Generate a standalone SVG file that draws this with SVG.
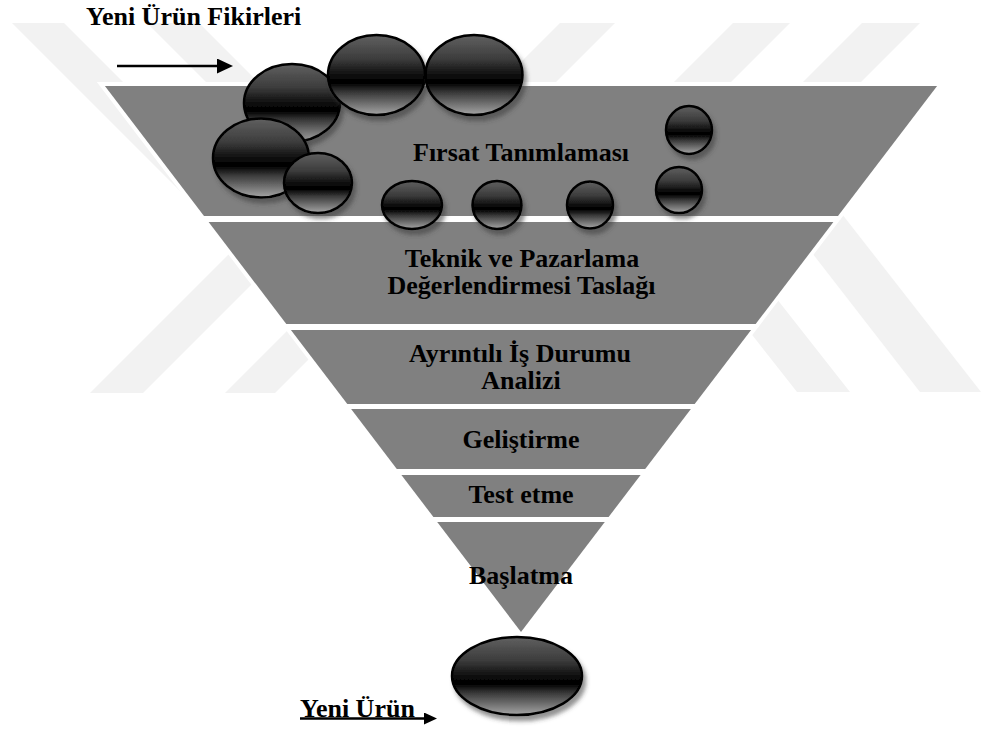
<svg xmlns="http://www.w3.org/2000/svg" width="981" height="731" viewBox="0 0 981 731">
<style>
.wm{fill:#f2f2f2}
.band{fill:#808080;stroke:#ffffff;stroke-width:8;paint-order:stroke;stroke-linejoin:miter}
.lbl{font-family:'Liberation Serif','Times New Roman',Tinos,'DejaVu Serif',serif;font-weight:bold;font-size:26px;fill:#000;text-anchor:middle}
.cap{font-family:'Liberation Serif','Times New Roman',Tinos,'DejaVu Serif',serif;font-weight:bold;font-size:26px;fill:#000}
.idea{fill:url(#ballGrad);stroke:#000;stroke-width:2.5;filter:url(#shadow)}
.conn{stroke:#000;stroke-width:2.5;fill:none}
</style>
<defs>
<linearGradient id="ballGrad" x1="0" y1="0" x2="0" y2="1">
<stop offset="0" stop-color="#606060"/>
<stop offset="0.3" stop-color="#3c3c3c"/>
<stop offset="0.52" stop-color="#0a0a0a"/>
<stop offset="0.6" stop-color="#000"/>
<stop offset="0.72" stop-color="#3a3a3a"/>
<stop offset="1" stop-color="#a6a6a6"/>
</linearGradient>
<filter id="shadow" x="-20%" y="-20%" width="150%" height="160%">
<feDropShadow dx="3" dy="5" stdDeviation="2" flood-color="#3a3a3a" flood-opacity="0.55"/>
</filter>
<marker id="headBig" markerUnits="userSpaceOnUse" markerWidth="16" markerHeight="15" viewBox="0 0 16 15" refX="5" refY="7.5" orient="auto">
<path d="M0,0 L16,7.5 L0,15 Z" fill="#000"/>
</marker>
<marker id="headSmall" markerUnits="userSpaceOnUse" markerWidth="13" markerHeight="12" viewBox="0 0 13 12" refX="3" refY="6" orient="auto">
<path d="M0,0 L13,6 L0,12 Z" fill="#000"/>
</marker>
</defs>
<rect width="981" height="731" fill="#fff"/>
<g id="watermark">
<polygon class="wm" points="12,23 64,23 301,260 249,260"/>
<polygon class="wm" points="147,23 199,23 436,260 384,260"/>
<polygon class="wm" points="560,23 615,23 452,186 397,186"/>
<polygon class="wm" points="733,23 790,23 627,186 570,186"/>
<polygon class="wm" points="862,23 920,23 757,186 699,186"/>
<polygon class="wm" points="771,200 831,200 981,392 920,392"/>
<polygon class="wm" points="709,280 762,280 850,392 797,392"/>
<polygon class="wm" points="90,393 143,393 286,250 233,250"/>
<polygon class="wm" points="225,393 275,393 348,320 298,320"/>
</g>
<g id="band-firsat">
<polygon class="band" points="104.9,86 937.1,86 838,216 204,216"/>
<text class="lbl" x="521" y="161">Fırsat Tanımlaması</text>
</g>
<g id="band-teknik">
<polygon class="band" points="208.6,222 833.4,222 755.7,324 286.3,324"/>
<text class="lbl" x="522" y="267">Teknik ve Pazarlama</text>
<text class="lbl" x="521.5" y="294">Değerlendirmesi Taslağı</text>
</g>
<g id="band-ayrintili">
<polygon class="band" points="290.9,330 751.1,330 694.7,404 347.3,404"/>
<text class="lbl" x="520" y="362">Ayrıntılı İş Durumu</text>
<text class="lbl" x="521" y="389">Analizi</text>
</g>
<g id="band-gelistirme">
<polygon class="band" points="351.1,409 690.9,409 645.2,469 396.8,469"/>
<text class="lbl" x="521" y="448">Geliştirme</text>
</g>
<g id="band-test">
<polygon class="band" points="401.4,475 640.6,475 608.6,517 433.4,517"/>
<text class="lbl" x="521" y="503">Test etme</text>
</g>
<g id="band-baslatma">
<polygon class="band" points="437.2,522 604.8,522 521,632"/>
<text class="lbl" x="521" y="584">Başlatma</text>
</g>
<g id="idea-1"><ellipse class="idea" cx="292" cy="103" rx="48" ry="39"/></g>
<g id="idea-2"><ellipse class="idea" cx="376.5" cy="75" rx="48.5" ry="40"/></g>
<g id="idea-3"><ellipse class="idea" cx="474" cy="75" rx="48.5" ry="40"/></g>
<g id="idea-4"><ellipse class="idea" cx="261" cy="158" rx="48" ry="39.5"/></g>
<g id="idea-5"><ellipse class="idea" cx="318" cy="183" rx="34" ry="30"/></g>
<g id="idea-6"><ellipse class="idea" cx="412" cy="205" rx="30" ry="24"/></g>
<g id="idea-7"><ellipse class="idea" cx="497" cy="205" rx="24.5" ry="24"/></g>
<g id="idea-8"><ellipse class="idea" cx="590" cy="205" rx="23" ry="23.5"/></g>
<g id="idea-9"><ellipse class="idea" cx="689" cy="130" rx="23" ry="24"/></g>
<g id="idea-10"><ellipse class="idea" cx="679" cy="190" rx="23" ry="23"/></g>
<g id="new-product"><ellipse class="idea" cx="517" cy="676" rx="65" ry="39"/></g>
<g id="label-ideas"><text class="cap" x="86" y="25">Yeni Ürün Fikirleri</text></g>
<g id="label-product"><text class="cap" x="300" y="717">Yeni Ürün</text></g>
<g id="connectors">
<line class="conn" x1="117" y1="66" x2="222" y2="66" marker-end="url(#headBig)"/>
<line class="conn" x1="300" y1="718.5" x2="427" y2="718.5" marker-end="url(#headSmall)"/>
</g>
</svg>
